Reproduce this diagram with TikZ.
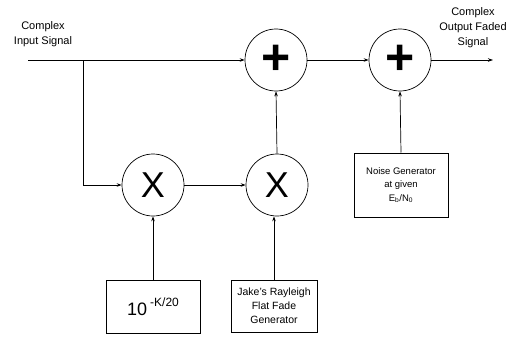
\documentclass[tikz,border=0pt]{standalone}
\usepackage{fontspec}
\setmainfont{Liberation Sans}
\usetikzlibrary{arrows.meta}
\begin{document}
\begin{tikzpicture}[x=1pt,y=-1pt,
  op/.style={circle,draw,line width=0.7pt,minimum size=62pt,inner sep=0pt},
  blk/.style={draw,line width=1pt,align=center,inner sep=0pt},
  lbl/.style={align=center,font=\fontsize{11}{15}\selectfont},
  wire/.style={line width=0.7pt},
  arr/.style={wire,-{Stealth[length=5pt,width=3.5pt]}}]
\useasboundingbox (0,0) rectangle (521,345);
\node[op] (p1) at (276,60) {\fontsize{50}{50}\selectfont\bfseries +};
\node[op] (p2) at (400,60) {\fontsize{50}{50}\selectfont\bfseries +};
\node[op] (m1) at (153,185) {\fontsize{36}{36}\selectfont X};
\node[op] (m2) at (277,185) {\fontsize{36}{36}\selectfont X};
\node[blk,minimum width=94pt,minimum height=53pt] (b1) at (153,307) {\fontsize{18}{20}\selectfont 10\,\raisebox{0.5em}{\fontsize{12}{12}\selectfont -K/20}};
\node[blk,minimum width=86pt,minimum height=52pt,font=\fontsize{10.5}{14}\selectfont] (b2) at (274,306) {Jake's Rayleigh\\Flat Fade\\Generator};
\node[blk,minimum width=94pt,minimum height=64pt,font=\fontsize{9.5}{13.5}\selectfont] (b3) at (401,185) {Noise Generator\\at given\\E\textsubscript{b}/N\textsubscript{0}};
\node[lbl] (inl) at (43,34) {Complex\\Input Signal};
\node[lbl] (outl) at (473,28) {Complex\\Output Faded\\Signal};
\coordinate (in) at (28,60);
\coordinate (br) at (83,60);
\coordinate (out) at (493,60);
\draw[arr] (in) -- (p1.west);
\draw[arr] (br) |- (m1.west);
\draw[arr] (m1.east) -- (m2.west);
\draw[arr] (m2.north) -- (p1.south);
\draw[arr] (p1.east) -- (p2.west);
\draw[arr] (p2.east) -- (out);
\draw[arr] (b1.north) -- (m1.south);
\draw[arr] (b2.north) -- (b2.north |- m2.south);
\draw[arr] (b3.north) -- (p2.south);
\end{tikzpicture}
\end{document}
